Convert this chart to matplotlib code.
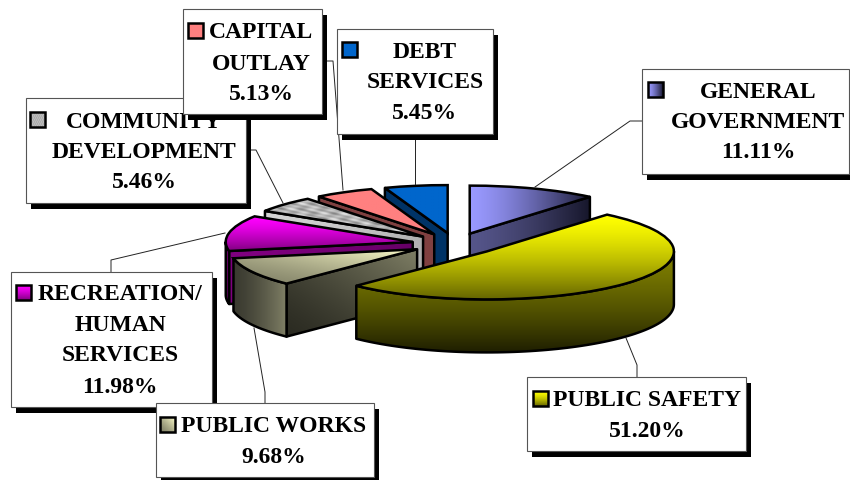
import numpy as np
import matplotlib
matplotlib.use('Agg')
import matplotlib.pyplot as plt
from matplotlib.colors import to_rgb
from matplotlib.patches import Polygon, Rectangle

## the data (clockwise from 12 o'clock)
categories = ['GENERAL GOVERNMENT', 'PUBLIC SAFETY', 'PUBLIC WORKS', 'RECREATION/HUMAN SERVICES',
              'COMMUNITY DEVELOPMENT', 'CAPITAL OUTLAY', 'DEBT SERVICES']
shares = [11.11, 51.20, 9.68, 11.98, 5.46, 5.13, 5.45]
name_lines = [['GENERAL', 'GOVERNMENT'], ['PUBLIC SAFETY'], ['PUBLIC WORKS'],
              ['RECREATION/', 'HUMAN', 'SERVICES'], ['COMMUNITY', 'DEVELOPMENT'],
              ['CAPITAL', 'OUTLAY'], ['DEBT', 'SERVICES']]

## face colours: (start, end, direction)
top_faces = [('#9999ff', '#1a1a33', (1, 0)), ('#ffff00', '#666600', (0, -1)),
             ('#808066', '#ffffcc', (1, 1)), ('#ff00ff', '#800080', (0, -1)),
             ('#e8e8e8', '#808080', None), ('#ff8080', '#ff8080', (1, 0)),
             ('#0066cc', '#0066cc', (1, 0))]
arc_walls = [('#4d4d80', '#15152a', (1, 0)), ('#7f7f00', '#1f1f00', (0, -1)),
             ('#3a3a30', '#808066', (1, 0)), ('#800080', '#500050', (0, -1)),
             ('#c8c8c8', '#c8c8c8', (1, 0)), ('#804040', '#804040', (1, 0)),
             ('#003366', '#003366', (1, 0))]
side_walls = [('#55558a', '#16162a', (1, 0)), ('#7f7f00', '#1f1f00', (0, -1)),
              ('#2b2b22', '#808066', (1, 1)), ('#800080', '#660066', (1, 0)),
              ('#d4d4d4', '#b0b0b0', (1, 0)), ('#804040', '#804040', (1, 0)),
              ('#003366', '#003366', (1, 0))]
draw_order = [6, 5, 4, 3, 2, 0, 1]

## label layout, in image pixels
boxes = [(642, 69, 207, 105), (527, 377, 219, 74), (156, 403, 218, 74), (11, 272, 201, 135),
         (26, 98, 220, 105), (183, 9, 139, 105), (337, 29, 156, 105)]
keys = [(648, 82), (533, 391), (160, 417), (16, 285), (30, 112), (188, 23), (342, 42)]
text_x = [758, 647, 274, 120, 144, 261, 425]
text_y = [[90, 120, 150], [398, 429], [424, 455], [292, 323, 353, 385], [120, 150, 180],
          [30, 62, 92], [50, 80, 111]]
leaders = [[(642, 121), (630, 121), (535, 187)], [(637, 377), (637, 365), (626, 338)],
           [(265, 403), (265, 392), (254, 328)], [(111, 272), (111, 260), (225, 233)],
           [(246, 150), (256, 150), (283, 203)], [(322, 61), (333, 61), (343, 190)],
           [(415, 134), (415, 184)]]
box_order = [0, 1, 3, 2, 4, 5, 6]

W, H = 850, 480
cx, cy, rx, ry = 455, 244, 187, 48
depth = 53 / ry
edge = 1.8


def gradient_fill(ax, patch, colors, zorder):
    c0, c1, direction = colors
    bb = patch.get_path().get_extents(patch.get_patch_transform())
    u, v = np.meshgrid(np.linspace(0, 1, 128), np.linspace(0, 1, 128))
    if direction is None:
        # marble look of the community slice
        t = 0.5 + 0.3 * np.sin(u * 47) * np.sin(v * 23) + 0.2 * np.sin((u + v) * 61)
    else:
        dx, dy = direction
        t = (u if dx > 0 else 1 - u) * abs(dx) + (v if dy > 0 else 1 - v) * abs(dy)
        t = (t / (abs(dx) + abs(dy))) ** 1.4
    t = np.clip(t, 0, 1)[..., None]
    rgb = (1 - t) * np.array(to_rgb(c0)) + t * np.array(to_rgb(c1))
    im = ax.imshow(rgb, extent=(bb.x0, bb.x1, bb.y0, bb.y1), origin='lower',
                   aspect='auto', interpolation='bilinear', zorder=zorder)
    im.set_clip_path(patch)


fig = plt.figure(figsize=(W / 100, H / 100), dpi=100)

## the pie, squashed by the axes shape
ax = fig.add_axes([(cx - 1.5 * rx) / W, (H - cy - 3 * ry) / H, 3 * rx / W, 6 * ry / H])
wedges, _ = ax.pie(shares, startangle=90, counterclock=False, explode=[0.23] * len(shares),
                   wedgeprops=dict(facecolor='none', edgecolor='black', linewidth=edge))
ax.set_aspect('auto')
ax.set_xlim(-1.5, 1.5)
ax.set_ylim(-3, 3)

z = 1
for n, i in enumerate(draw_order):
    w = wedges[i]
    x0, y0 = w.center
    t1 = w.theta1 % 360
    t2 = t1 + (w.theta2 - w.theta1)
    faces = []
    # flat cut side, only when it looks towards the viewer
    for t, seen in ((t1, np.cos(np.radians(t1)) > 0.01), (t2, np.cos(np.radians(t2)) < -0.01)):
        if seen:
            px, py = x0 + np.cos(np.radians(t)), y0 + np.sin(np.radians(t))
            faces.append(([(x0, y0), (px, py), (px, py - depth), (x0, y0 - depth)], side_walls[i]))
    # rim, the part on the front half of the ellipse
    a, b = max(t1, 180), min(t2, 360)
    if b > a:
        th = np.radians(np.linspace(a, b, 80))
        xs, ys = x0 + np.cos(th), y0 + np.sin(th)
        rim = list(zip(xs, ys)) + list(zip(xs[::-1], ys[::-1] - depth))
        faces.append((rim, arc_walls[i]))
    for verts, colors in faces:
        p = Polygon(verts, closed=True, facecolor='none', edgecolor='black',
                    linewidth=edge, joinstyle='round', zorder=z + 1)
        ax.add_patch(p)
        gradient_fill(ax, p, colors, z)
        z += 2
    w.set_zorder(z + 1)
    gradient_fill(ax, w, top_faces[i], z)
    z += 2

## labels on a pixel layer above the pie
lay = fig.add_axes([0, 0, 1, 1], facecolor='none')
lay.set_xlim(0, W)
lay.set_ylim(0, H)
lay.axis('off')

for pts in leaders:
    lay.plot([p[0] for p in pts], [H - p[1] for p in pts], color='#222222', lw=0.7, zorder=1)

z = 2
for i in box_order:
    x, y, bw, bh = boxes[i]
    lay.add_patch(Rectangle((x + 5, H - y - bh - 6), bw, bh, facecolor='black', edgecolor='none', zorder=z))
    lay.add_patch(Rectangle((x, H - y - bh), bw, bh, facecolor='white', edgecolor='#555555', lw=0.8, zorder=z + 1))
    kx, ky = keys[i]
    key = Rectangle((kx, H - ky - 15), 15, 15, facecolor='none', edgecolor='black', lw=edge, zorder=z + 3)
    lay.add_patch(key)
    gradient_fill(lay, key, top_faces[i], z + 2)
    lines = name_lines[i] + ['%.2f%%' % shares[i]]
    for line, ty in zip(lines, text_y[i]):
        lay.text(text_x[i], H - ty, line, ha='center', va='center_baseline', fontsize=17,
                 fontweight='bold', family='Liberation Serif', color='black', zorder=z + 3)
    z += 4

fig.savefig('out.png', dpi=100)
